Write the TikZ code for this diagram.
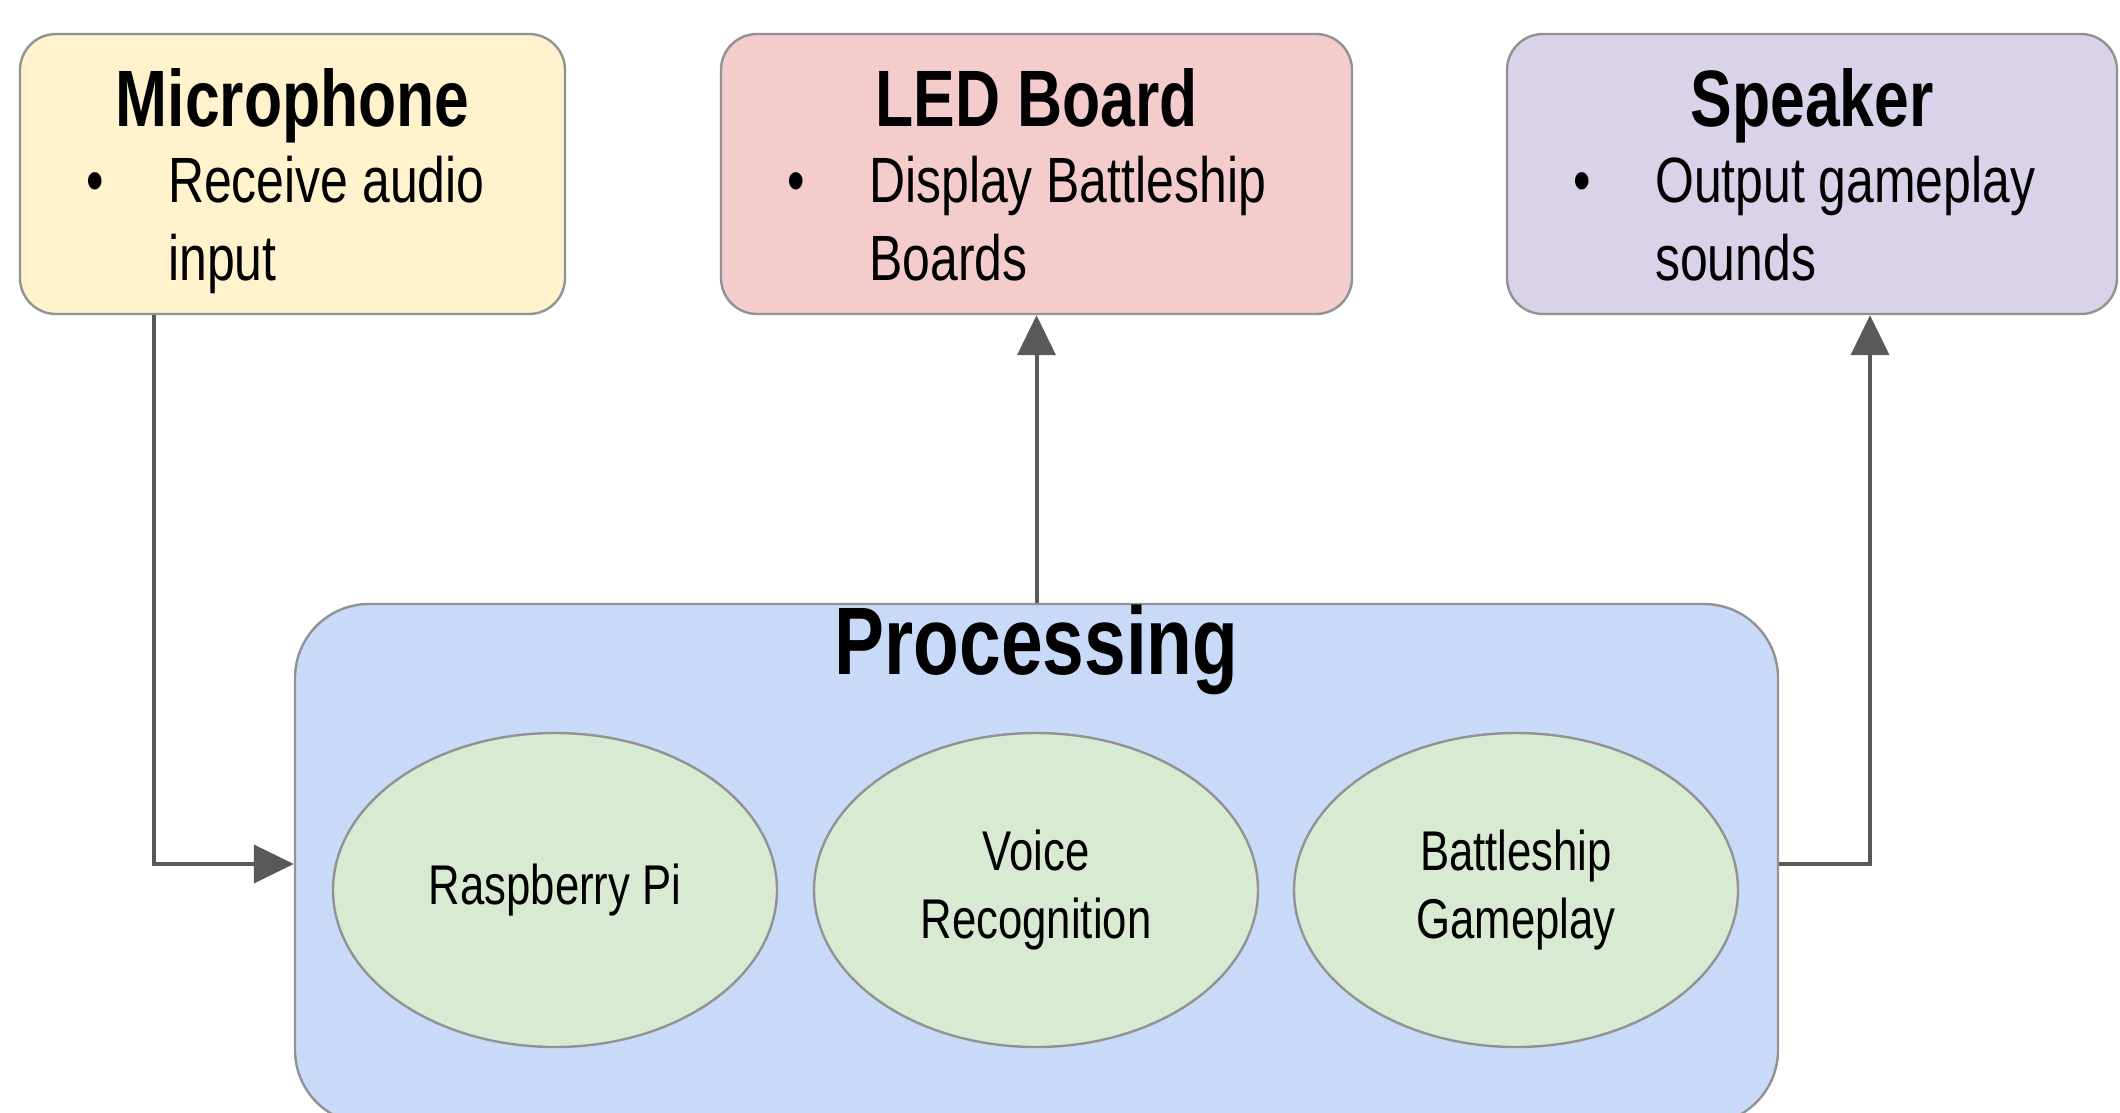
\documentclass[tikz,border=0pt]{standalone}
\usepackage{fontspec}
\setmainfont{Liberation Sans}[FakeStretch=0.78]
\usetikzlibrary{arrows.meta,shapes.geometric,positioning}
\tikzset{>={Triangle[length=20pt,width=19pt]}}
\definecolor{micfill}{HTML}{FFF2CC}
\definecolor{ledfill}{HTML}{F4CCCC}
\definecolor{spkfill}{HTML}{D9D2E9}
\definecolor{procfill}{HTML}{C9DAF8}
\definecolor{unitfill}{HTML}{D9EAD3}
\definecolor{edge}{HTML}{929292}
\definecolor{wire}{HTML}{595959}
\tikzset{
  block/.style={draw=edge, line width=1.2pt, rounded corners=18pt,
    minimum height=140pt, inner sep=0pt},
  head/.style={anchor=base, inner sep=0pt,
    font=\fontsize{40}{48}\selectfont\bfseries},
  item/.style={anchor=base west, align=left, inner sep=0pt,
    font=\fontsize{32}{39}\selectfont},
  unit/.style={ellipse, draw=edge, line width=1.2pt, fill=unitfill,
    minimum width=222pt, minimum height=157pt, align=center, inner sep=0pt,
    font=\fontsize{28}{34}\selectfont},
  flow/.style={->, draw=wire, line width=2pt}
}
\newcommand\bul{\llap{\textbullet\hspace{32pt}}}

\begin{document}
\begin{tikzpicture}[x=0.5pt,y=-0.5pt]
  \useasboundingbox (0,0) rectangle (2120,1113);

  %% peripherals
  \node[block, fill=micfill, minimum width=272.5pt] (mic) at (292.5,174) {};
  \node[block, fill=ledfill, minimum width=315.5pt] (led) at (1036.5,174) {};
  \node[block, fill=spkfill, minimum width=305pt] (spk) at (1812,174) {};

  \node[head] (mictitle) at ([yshift=-47pt]mic.north) {Microphone};
  \node[head] (ledtitle) at ([yshift=-47pt]led.north) {LED Board};
  \node[head] (spktitle) at ([yshift=-47pt]spk.north) {Speaker};

  %% base of an item node sits on its last line
  \node[item] (mictext) at ([xshift=74.5pt,yshift=-124pt]mic.north west)
  {\bul Receive audio\\input};
  \node[item] (ledtext) at ([xshift=74.5pt,yshift=-124pt]led.north west)
  {\bul Display Battleship\\Boards};
  \node[item] (spktext) at ([xshift=74.5pt,yshift=-124pt]spk.north west)
  {\bul Output gameplay\\sounds};

  %% processing unit
  \node[block, fill=procfill, rounded corners=37pt, minimum width=741.5pt,
  minimum height=260pt] (proc) at (1036.5,864) {};
  \node[head, font=\fontsize{48}{56}\selectfont\bfseries] (proctitle)
  at ([yshift=-36pt]proc.north) {Processing};

  \node[unit] (rpi) at (555,890) {Raspberry Pi};
  \node[unit] (voice) at (1036,890) {Voice\\Recognition};
  \node[unit] (game) at (1516,890) {Battleship\\Gameplay};

  %% signal flow
  \draw[flow] ([xshift=-69.5pt]mic.south) |- (proc.west); %% mic -> proc
  \draw[flow] (proc.north) -- (led.south); %% proc -> led
  \draw[flow] (proc.east) -| ([xshift=29pt]spk.south); %% proc -> speaker

\end{tikzpicture}
\end{document}
